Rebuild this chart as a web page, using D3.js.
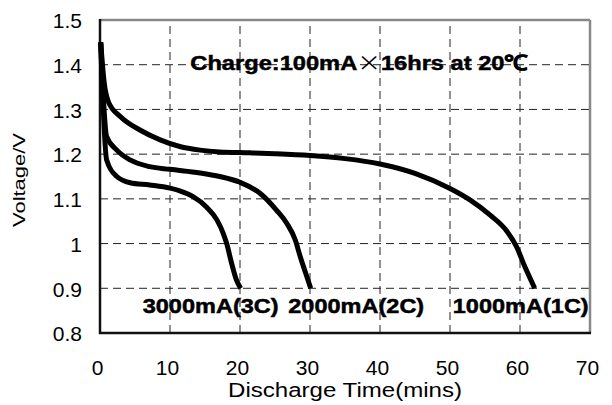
<!DOCTYPE html>
<html>
<head>
<meta charset="utf-8">
<script src="https://cdn.jsdelivr.net/npm/d3@7"></script>
<style>
  body { margin: 0; background: #fff; }
  text { font-family: "Liberation Sans", Arial, sans-serif; fill: #000; }
</style>
</head>
<body>
<div id="chart"></div>
<script>
// discharge curves (time in mins, voltage in V)
var time1C = [0.1, 0.6, 1.2, 2.9, 5.7, 8.6, 11.4, 14.3, 17.1, 21.4, 25, 30, 35, 40, 45, 50, 52.9, 55.7, 58.1, 59.5, 60.7, 62.1],
    volt1C = [1.45, 1.36, 1.317, 1.284, 1.254, 1.232, 1.217, 1.209, 1.205, 1.203, 1.201, 1.197, 1.19, 1.178, 1.157, 1.123, 1.097, 1.064, 1.028, 0.993, 0.948, 0.9];
var time2C = [0.1, 0.95, 2.4, 4.3, 7.1, 10, 14.3, 17.1, 20, 22.9, 25.2, 26.7, 27.9, 28.6, 29.4, 30.1],
    volt2C = [1.45, 1.239, 1.209, 1.187, 1.172, 1.166, 1.158, 1.15, 1.137, 1.112, 1.075, 1.045, 1.008, 0.971, 0.933, 0.9];
var time3C = [0.1, 0.95, 2.4, 4.3, 7.1, 10, 11.4, 13.3, 15.2, 16.7, 17.6, 18.1, 18.8, 19.5, 20.1],
    volt3C = [1.45, 1.187, 1.15, 1.136, 1.131, 1.124, 1.118, 1.105, 1.082, 1.053, 1.023, 1.0, 0.956, 0.918, 0.9];

var seriesLabels = ["3000mA(3C)", "2000mA(2C)", "1000mA(1C)"];
var notePre = "Charge:100mA", noteTimes = "\u00d7", notePost = "16hrs at 20\u2103";
var xTicks = [0, 10, 20, 30, 40, 50, 60, 70],
    yTicks = [0.8, 0.9, 1, 1.1, 1.2, 1.3, 1.4, 1.5],
    xGrid = [10, 20, 30, 40, 50, 60],
    yGrid = [0.9, 1, 1.1, 1.2, 1.3, 1.4];
var xTitle = "Discharge Time(mins)", yTitle = "Voltage/V";

var width = 612, height = 405;
var margin = {top: 20, right: 22, bottom: 72, left: 100},
    w = width - margin.left - margin.right,
    h = height - margin.top - margin.bottom;

var svg = d3.select("#chart").append("svg")
    .attr("width", width)
    .attr("height", height);

var g = svg.append("g").attr("transform", "translate(" + margin.left + "," + margin.top + ")");

var x = d3.scaleLinear().range([0, w]).domain([0, 70]),
    y = d3.scaleLinear().range([h, 0]).domain([0.8, 1.5]);

drawGrid();
drawAxis();
drawCurves();
drawLabels();

// stretch a text horizontally so it spans the wanted width
function fitWidth(sel, px, py, target, rot){
    var len = sel.node().getComputedTextLength();
    sel.attr("transform", "translate(" + px + "," + py + ")" + (rot ? " rotate(" + rot + ")" : "") +
        " scale(" + (target / len) + ",1)");
}

function drawGrid(){
    g.selectAll(".vgrid")
        .data(xGrid)
        .enter().append("line")
        .attr("x1", function(d) { return x(d); })
        .attr("x2", function(d) { return x(d); })
        .attr("y1", h)
        .attr("y2", 0)
        .attr("stroke", "#222")
        .attr("stroke-width", 1)
        .attr("stroke-dasharray", "8,5");

    g.selectAll(".hgrid")
        .data(yGrid)
        .enter().append("line")
        .attr("x1", 0)
        .attr("x2", w)
        .attr("y1", function(d) { return y(d); })
        .attr("y2", function(d) { return y(d); })
        .attr("stroke", "#222")
        .attr("stroke-width", 1)
        .attr("stroke-dasharray", "8,5");
}

function drawAxis(){
    // plot frame: grey top/right, black axes left/bottom
    g.append("line").attr("x1", 0).attr("x2", w).attr("y1", 0).attr("y2", 0)
        .attr("stroke", "#888").attr("stroke-width", 2.5);
    g.append("line").attr("x1", w).attr("x2", w).attr("y1", 0).attr("y2", h)
        .attr("stroke", "#888").attr("stroke-width", 2.5);
    g.append("line").attr("x1", 0).attr("x2", 0).attr("y1", -1).attr("y2", h + 1)
        .attr("stroke", "#111").attr("stroke-width", 2.5);
    g.append("line").attr("x1", -1).attr("x2", w + 1).attr("y1", h).attr("y2", h)
        .attr("stroke", "#111").attr("stroke-width", 2.5);

    var xAxis = d3.axisBottom(x).tickValues(xTicks).tickSize(0).tickPadding(0)
            .tickFormat(d3.format("d")),
        yAxis = d3.axisLeft(y).tickValues(yTicks).tickSize(0).tickPadding(18)
            .tickFormat(function(d) { return String(d); });

    var xa = g.append("g")
        .attr("transform", "translate(-3," + h + ")")
        .call(xAxis);
    xa.select(".domain").remove();
    xa.selectAll("text")
        .attr("y", 42).attr("dy", 0)
        .style("font-size", "21px").style("font-family", "Liberation Sans, Arial, sans-serif");

    var ya = g.append("g").call(yAxis);
    ya.select(".domain").remove();
    ya.selectAll("text")
        .attr("dy", "0.37em")
        .style("font-size", "21px").style("font-family", "Liberation Sans, Arial, sans-serif");

    var xt = svg.append("text")
        .attr("text-anchor", "middle")
        .style("font-size", "20px")
        .text(xTitle);
    fitWidth(xt, 345, 397, 234);

    var yt = svg.append("text")
        .attr("text-anchor", "middle")
        .style("font-size", "16px")
        .text(yTitle);
    fitWidth(yt, 25, 180, 94, -90);
}

function drawCurves(){
    var line = d3.line()
        .x(function(d) { return x(d[0]); })
        .y(function(d) { return y(d[1]); })
        .curve(d3.curveMonotoneX);

    var series = [d3.zip(time3C, volt3C), d3.zip(time2C, volt2C), d3.zip(time1C, volt1C)];

    g.selectAll(".curve")
        .data(series)
        .enter().append("path")
        .attr("d", line)
        .attr("fill", "none")
        .attr("stroke", "#000")
        .attr("stroke-width", 5)
        .attr("stroke-linejoin", "round");
}

function drawLabels(){
    var labelX = [6.1, 26.9, 50.4];
    g.selectAll(".serieslabel")
        .data(seriesLabels)
        .enter().append("text")
        .style("font-size", "21px")
        .style("font-weight", "bold")
        .style("stroke", "#000").style("stroke-width", 0.5)
        .text(function(d) { return d; })
        .each(function(d, i) { fitWidth(d3.select(this), x(labelX[i]), y(0.844), 136); });

    var note = g.append("text")
        .style("font-size", "21px")
        .style("font-weight", "bold")
        .style("stroke", "#000").style("stroke-width", 0.5);
    note.append("tspan").text(notePre);
    note.append("tspan")
        .style("font-family", "Noto Sans CJK JP")
        .style("font-weight", "normal")
        .style("stroke-width", 0)
        .text(noteTimes);
    note.append("tspan").text(notePost);
    fitWidth(note, x(12.9), y(1.388), 338);
}
</script>
</body>
</html>
